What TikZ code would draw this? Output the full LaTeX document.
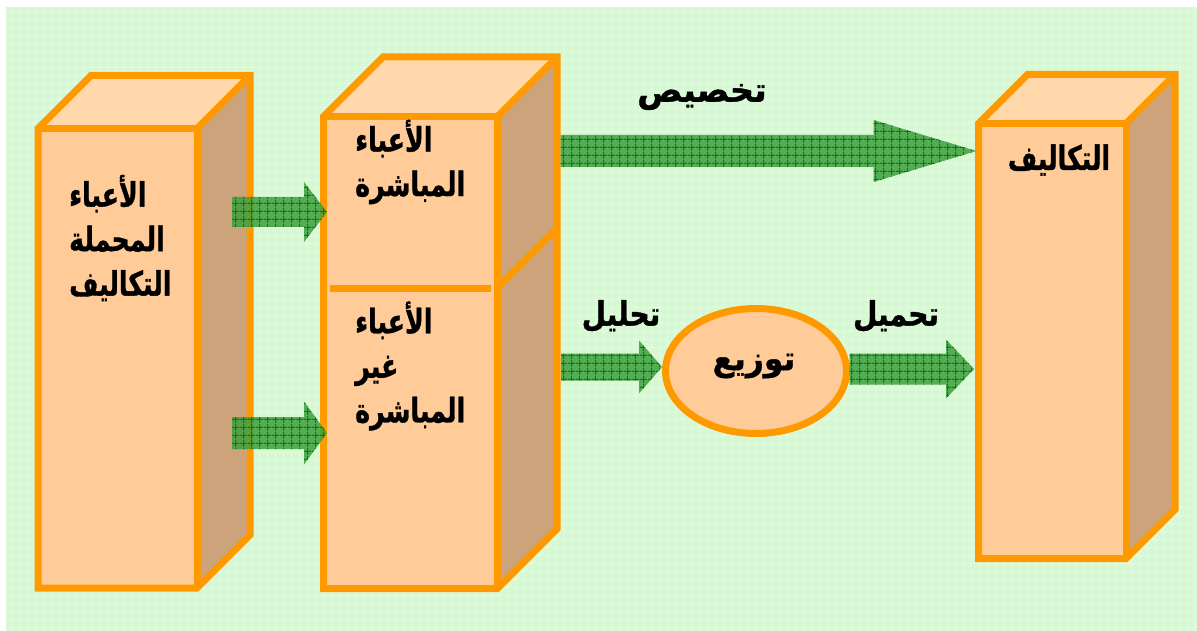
\documentclass[tikz,border=0pt]{standalone}
\usepackage{graphicx}
\usepackage{fontspec}
\newfontfamily\arabicfont[Script=Arabic, BoldFeatures={FakeBold=1.2}]{DejaVu Sans}
\TeXXeTstate=1
\usetikzlibrary{calc,shapes.geometric,patterns.meta}
\definecolor{edgeor}{RGB}{255,153,0}
\definecolor{frontc}{RGB}{255,204,153}
\definecolor{topc}{RGB}{255,215,170}
\definecolor{sidec}{RGB}{204,163,123}
\definecolor{bggreen}{RGB}{216,248,213}
\definecolor{arrg}{RGB}{62,160,62}
\definecolor{arrd}{RGB}{8,112,8}
\tikzdeclarepattern{
  name=gridpat,
  type=uncolored,
  bounding box={(0pt,0pt) and (8pt,8pt)},
  tile size={(8pt,8pt)},
  code={\pgfsetlinewidth{1.2pt}%
    \pgfpathmoveto{\pgfpoint{0pt}{4pt}}\pgfpathlineto{\pgfpoint{8pt}{4pt}}%
    \pgfpathmoveto{\pgfpoint{4pt}{0pt}}\pgfpathlineto{\pgfpoint{4pt}{8pt}}%
    \pgfusepath{stroke}}
}
\newcommand\ar[2][1]{\scalebox{#1}[1.2]{\beginR #2\endR}}
\tikzset{
  edge/.style={draw=edgeor, line width=7pt, line join=miter},
  front/.style={rectangle, fill=frontc, draw=none, inner sep=0pt, outer sep=0pt},
  lbl/.style={font=\arabicfont\bfseries\fontsize{28pt}{44.5pt}\selectfont, inner sep=0pt, text=black},
  arrowsty/.style={preaction={fill=arrg, fill opacity=0.85}, pattern={gridpat}, pattern color=arrd, fill opacity=0.85}
}
\newcommand\cuboid[2]{%
  \fill[topc] (#1.north west) -- ++(#2,-#2) -- ($(#1.north east)+(#2,-#2)$) -- (#1.north east) -- cycle;
  \fill[sidec] (#1.north east) -- ++(#2,-#2) -- ($(#1.south east)+(#2,-#2)$) -- (#1.south east) -- cycle;
  \draw[edge] (#1.south west) -- (#1.north west) -- ++(#2,-#2) -- ($(#1.north east)+(#2,-#2)$) -- ($(#1.south east)+(#2,-#2)$) -- (#1.south east) -- cycle;
  \draw[edge] (#1.north west) -- (#1.north east) -- (#1.south east);
  \draw[edge] (#1.north east) -- ++(#2,-#2);}
\newcommand\blockarrow[5]{%
  \path[arrowsty] let \p1=(#1), \p2=(#2) in
   (\x1,{\y1+#3}) -- ({\x2-#5},{\y1+#3}) -- ({\x2-#5},{\y1+#4}) -- (\x2,\y1)
   -- ({\x2-#5},{\y1-#4}) -- ({\x2-#5},{\y1-#3}) -- (\x1,{\y1-#3}) -- cycle;}
\begin{document}
\begin{tikzpicture}[x=1pt,y=-1pt]
\useasboundingbox (0,0) rectangle (1197,631);
\fill[white] (0,0) rectangle (1197,631);
\fill[bggreen] (6,7) rectangle (1197,631);
\fill[pattern={gridpat}, pattern color=white, fill opacity=0.3] (6,7) rectangle (1197,631);

% boxes
\node[front, minimum width=159pt, minimum height=459.5pt] (b1) at (117.5,358.25) {};
\cuboid{b1}{53}
\node[front, minimum width=174pt, minimum height=472pt] (b2) at (410.5,352.5) {};
\cuboid{b2}{59.5}
\draw[edge] ($(b2.north west)+(6.5,171.5)$) -- ($(b2.north east)+(-6.5,171.5)$);
\draw[edge] ($(b2.north east)+(0,171.5)$) -- ++(59.5,-59.5);
\node[front, minimum width=147.5pt, minimum height=435pt] (b3) at (1052.25,341) {};
\cuboid{b3}{49}

% ellipse
\node[ellipse, draw=edgeor, line width=7pt, fill=frontc, minimum width=181pt, minimum height=125pt, inner sep=0pt, outer sep=0pt] (ell) at (756,371) {};

% arrows
\coordinate (a1s) at (232,212);
\coordinate (a1e) at ($(b2.west |- a1s)+(3.5,0)$);
\coordinate (a2s) at (232,433);
\coordinate (a2e) at ($(b2.west |- a2s)+(3.5,0)$);
\coordinate (a3s) at ($(b2.east |- 0,151)+(63,0)$);
\coordinate (a3e) at ($(b3.west |- a3s)+(-2,0)$);
\coordinate (a4s) at ($(b2.east |- 0,367)+(63.5,0)$);
\coordinate (a4e) at ($(ell.west |- a4s)+(-3.5,0)$);
\coordinate (a5s) at ($(ell.east |- 0,369)+(3,0)$);
\coordinate (a5e) at ($(b3.west |- a5s)+(-4.5,0)$);
\blockarrow{a1s}{a1e}{15pt}{30pt}{23pt}
\blockarrow{a2s}{a2e}{16pt}{31.5pt}{23pt}
\blockarrow{a3s}{a3e}{16pt}{31pt}{103pt}
\blockarrow{a4s}{a4e}{13.5pt}{26.5pt}{23pt}
\blockarrow{a5s}{a5e}{15.5pt}{29.5pt}{28pt}

% texts
\node[lbl, anchor=west, align=left] (t1) at (69,238) {\ar[0.9]{الأعباء}\\\ar[0.9]{المحملة}\\\ar[0.9]{التكاليف}};
\node[lbl, anchor=west, align=left] (t2) at (355,162) {\ar[0.9]{الأعباء}\\\ar[0.9]{المباشرة}};
\node[lbl, anchor=west, align=left] (t3) at (355,366) {\ar[0.9]{الأعباء}\\\ar[0.9]{غير}\\\ar[0.9]{المباشرة}};
\node[lbl] (t4) at (1059,160) {\ar[0.9]{التكاليف}};
\node[lbl] (t5) at (702,97) {\ar[1.2]{تخصيص}};
\node[lbl] (t6) at (621,316) {\ar{تحليل}};
\node[lbl] (t7) at (896,316) {\ar{تحميل}};
\node[lbl] (t8) at (754,366) {\ar[1.12]{توزيع}};
\end{tikzpicture}
\end{document}
